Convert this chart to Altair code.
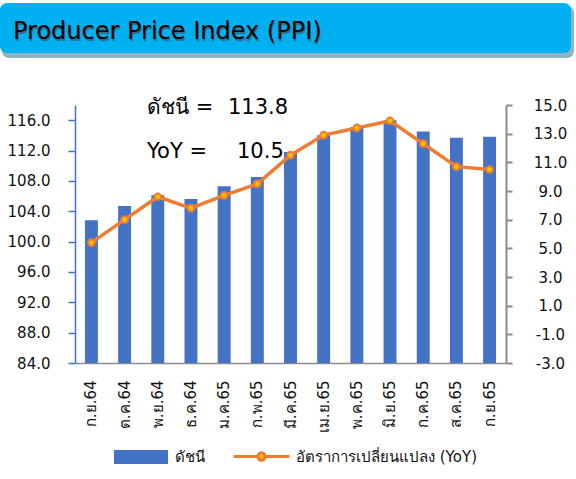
import altair as alt
import pandas as pd

title_text = "Producer Price Index (PPI)"
months = ["ก.ย.64", "ต.ค.64", "พ.ย.64", "ธ.ค.64", "ม.ค.65", "ก.พ.65", "มี.ค.65",
          "เม.ย.65", "พ.ค.65", "มิ.ย.65", "ก.ค.65", "ส.ค.65", "ก.ย.65"]
index_vals = [102.8, 104.7, 106.1, 105.6, 107.3, 108.5, 111.8, 114.0, 115.1, 116.0, 114.5, 113.7, 113.8]
yoy_vals = [5.4, 7.0, 8.6, 7.8, 8.7, 9.5, 11.5, 12.9, 13.4, 13.9, 12.3, 10.7, 10.5]
legend_labels = ["ดัชนี", "อัตราการเปลี่ยนแปลง (YoY)"]
annot_labels = ["ดัชนี =", "YoY ="]
left_ticks = [84, 88, 92, 96, 100, 104, 108, 112, 116]
right_ticks = [-3, -1, 1, 3, 5, 7, 9, 11, 13, 15]
left_min, left_max = 84, 118
right_min, right_max = -3, 15

FONT = "DejaVu Sans"
BLUE = "#4472c4"
ORANGE = "#ed7d31"

df = pd.DataFrame({"month": months, "index": index_vals, "yoy": yoy_vals,
                   "s1": legend_labels[0], "s2": legend_labels[1]})
one = pd.DataFrame({"t": [title_text]})

x_enc = alt.X("month:N", sort=months, title=None,
              scale=alt.Scale(type="band", paddingInner=0.61, paddingOuter=0.3),
              axis=alt.Axis(labelAngle=-90, ticks=False, tickSize=0, labelPadding=17,
                            domainColor="#8c8c8c", domainWidth=1.5, labelOverlap=False,
                            labelFont=FONT, labelFontSize=15, labelColor="#111111"))

bars = alt.Chart(df).mark_bar(color=BLUE).encode(
    x=x_enc,
    y=alt.Y("index:Q", title=None,
            scale=alt.Scale(domain=[left_min, left_max], nice=False, zero=False),
            axis=alt.Axis(orient="left", values=left_ticks, format=".1f", grid=False,
                          domainColor=BLUE, domainWidth=1.5, tickColor=BLUE, tickSize=7,
                          tickWidth=1.5, labelPadding=18, labelFont=FONT, labelFontSize=15,
                          labelColor="#111111", labelOverlap=False)),
    y2=alt.datum(left_min),
    color=alt.Color("s1:N", title=None,
                    scale=alt.Scale(domain=[legend_labels[0]], range=[BLUE]),
                    legend=alt.Legend(orient="none", legendX=39, legendY=325,
                                      symbolType="M-1,-0.26H1V0.26H-1Z", symbolSize=2916,
                                      symbolStrokeWidth=0, labelFont=FONT, labelFontSize=15,
                                      labelColor="#111111", labelOffset=7, padding=0,
                                      labelLimit=400)),
)

y_right = alt.Y("yoy:Q", title=None,
                scale=alt.Scale(domain=[right_min, right_max], nice=False, zero=False),
                axis=alt.Axis(orient="right", values=right_ticks, grid=False,
                              labelExpr="replace(format(datum.value, '.1f'), '\u2212', '-')",
                              domainColor="#8c8c8c", domainWidth=2, tickColor="#8c8c8c",
                              tickSize=6, tickWidth=2, labelAlign="center", labelPadding=38,
                              labelFont=FONT, labelFontSize=15, labelColor="#111111",
                              labelOverlap=False))

line = alt.Chart(df).mark_line(strokeWidth=3.5).encode(
    x=alt.X("month:N", sort=months),
    y=y_right,
    stroke=alt.Stroke("s2:N", title=None,
                      scale=alt.Scale(domain=[legend_labels[1]], range=[ORANGE]),
                      legend=alt.Legend(orient="none", legendX=157, legendY=322,
                                        symbolType="M-1,0H-0.13M0.13,0H1M0.13,0A0.13,0.13,0,1,1,-0.13,0A0.13,0.13,0,1,1,0.13,0Z",
                                        symbolSize=3136, symbolStrokeWidth=3,
                                        symbolFillColor="#ffc000",
                                        labelFont=FONT, labelFontSize=15,
                                        labelColor="#111111", labelOffset=5, padding=0,
                                        labelLimit=400)),
)
points = alt.Chart(df).mark_point(filled=False, fill="#ffc000", stroke=ORANGE,
                                  strokeWidth=2, size=45, opacity=1).encode(
    x=alt.X("month:N", sort=months),
    y=y_right,
)
right_layer = alt.layer(line, points)

# banner
banner_shadow = alt.Chart(one).mark_rect(color="#8fb5c2", cornerRadius=7).encode(
    x=alt.value(-73), x2=alt.value(499), y=alt.value(-99), y2=alt.value(-47))
banner = alt.Chart(one).mark_rect(color="#00b0f0", cornerRadius=7).encode(
    x=alt.value(-75), x2=alt.value(496), y=alt.value(-102), y2=alt.value(-52))
title_shadow = alt.Chart(one).mark_text(align="left", baseline="middle", font=FONT,
                                        fontSize=24, color="#2a6f8a").encode(
    x=alt.value(-61), y=alt.value(-71), text="t:N")
title = alt.Chart(one).mark_text(align="left", baseline="middle", font=FONT,
                                 fontSize=24, color="#000000").encode(
    x=alt.value(-62), y=alt.value(-73), text="t:N")

ann_df1 = pd.DataFrame({"lab": [annot_labels[0]], "val": [f"{index_vals[-1]:.1f}"]})
ann_df2 = pd.DataFrame({"lab": [annot_labels[1]], "val": [f"{yoy_vals[-1]:.1f}"]})
ann_style = dict(align="left", baseline="middle", font=FONT, fontSize=21, color="#000000")
a1 = alt.Chart(ann_df1).mark_text(**ann_style).encode(x=alt.value(72), y=alt.value(3), text="lab:N")
a2 = alt.Chart(ann_df1).mark_text(**ann_style).encode(x=alt.value(153), y=alt.value(3), text="val:N")
a3 = alt.Chart(ann_df2).mark_text(**ann_style).encode(x=alt.value(72), y=alt.value(47), text="lab:N")
a4 = alt.Chart(ann_df2).mark_text(**ann_style).encode(x=alt.value(162), y=alt.value(47), text="val:N")

chart = alt.layer(
    banner_shadow, banner, title_shadow, title,
    alt.layer(bars, right_layer).resolve_scale(y="independent"),
    a1, a2, a3, a4,
).properties(
    width=431, height=258,
    autosize=alt.AutoSizeParams(type="none"),
    padding={"left": 75, "top": 105, "right": 70, "bottom": 116},
    background="#ffffff",
).configure_view(strokeWidth=0)

chart.save("out.html", embed_options={"renderer": "svg", "actions": False})
